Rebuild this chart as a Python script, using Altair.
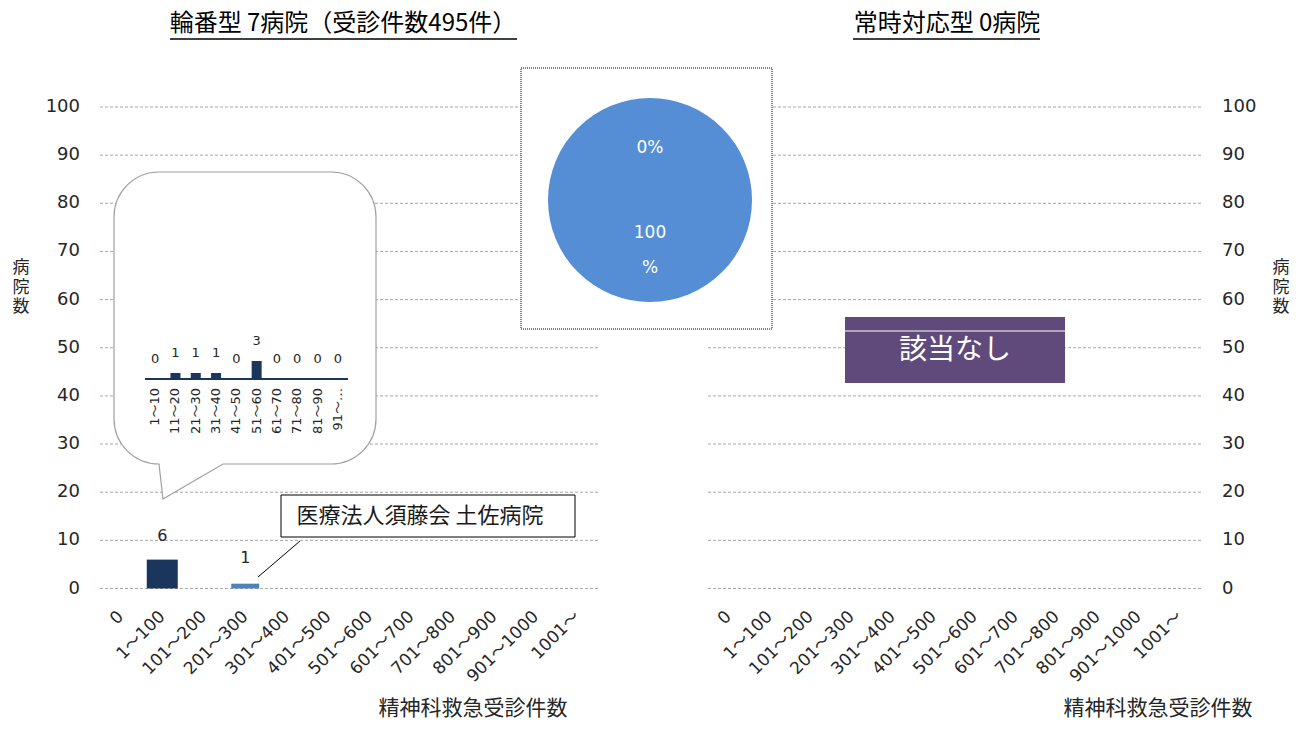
import altair as alt
import pandas as pd

# ---------------- data ----------------
categories = ["0", "1～100", "101～200", "201～300", "301～400", "401～500", "501～600",
              "601～700", "701～800", "801～900", "901～1000", "1001～"]
left_counts = [0, 6, 0, 0, 0, 0, 0, 0, 0, 0, 0, 0]
left_highlight = [0, 0, 0, 1, 0, 0, 0, 0, 0, 0, 0, 0]
y_ticks = [0, 10, 20, 30, 40, 50, 60, 70, 80, 90, 100]
mini_categories = ["1～10", "11～20", "21～30", "31～40", "41～50", "51～60",
                   "61～70", "71～80", "81～90", "91～…"]
mini_counts = [0, 1, 1, 1, 0, 3, 0, 0, 0, 0]
pie_shares = [0, 100]
pie_labels = ["0%", "100\n%"]
left_title = "輪番型 7病院（受診件数495件）"
right_title = "常時対応型 0病院"
x_title = "精神科救急受診件数"
y_title = "病\n院\n数"
callout_text = "医療法人須藤会 土佐病院"
none_text = "該当なし"

# ---------------- layout helpers ----------------
OFF = 8
def px(v):
    return v - OFF

NUM_FONT = "DejaVu Sans, Noto Sans CJK JP"
JP_FONT = "Noto Sans CJK JP"
LABEL_C = "#262626"
GRID_C = "#a6a6a6"
NAVY = "#1b365d"
LIGHT = "#4f81bd"
PIE_C = "#558ed5"
PURPLE = "#604a7b"

Y = alt.Scale(domain=[0, 100], range=[px(588.5), px(107)], nice=False, zero=True)
XL = alt.Scale(type="band", domain=categories, range=[px(100), px(598)], paddingInner=0, paddingOuter=0)
XR = alt.Scale(type="band", domain=categories, range=[px(708), px(1200)], paddingInner=0, paddingOuter=0)
XM = alt.Scale(type="band", domain=mini_categories, range=[px(145), px(348)], paddingInner=0, paddingOuter=0)
YM = alt.Scale(domain=[0, 3], range=[px(379), px(361)], nice=False, zero=True)

cat_df = pd.DataFrame({"cat": categories, "main": left_counts, "hl": left_highlight})
tick_df = pd.DataFrame({"v": y_ticks})
mini_df = pd.DataFrame({"cat": mini_categories, "v": mini_counts})
pie_df = pd.DataFrame({"share": pie_shares, "label": pie_labels, "ord": [0, 1]})
one = pd.DataFrame({"a": [0]})

layers = []

# gridlines
layers.append(alt.Chart(tick_df).mark_rule(color=GRID_C, strokeDash=[3, 2], strokeWidth=1).encode(
    y=alt.Y("v:Q", scale=Y, axis=None), x=alt.value(px(100)), x2=alt.value(px(600))))
layers.append(alt.Chart(tick_df).mark_rule(color=GRID_C, strokeDash=[3, 2], strokeWidth=1).encode(
    y=alt.Y("v:Q", scale=Y, axis=None), x=alt.value(px(708)), x2=alt.value(px(1202))))

# y tick labels
layers.append(alt.Chart(tick_df).mark_text(align="right", baseline="middle", font=NUM_FONT,
                                           fontSize=18, color=LABEL_C).encode(
    y=alt.Y("v:Q", scale=Y, axis=None), x=alt.value(px(80)), text=alt.Text("v:Q")))
layers.append(alt.Chart(tick_df).mark_text(align="left", baseline="middle", font=NUM_FONT,
                                           fontSize=18, color=LABEL_C).encode(
    y=alt.Y("v:Q", scale=Y, axis=None), x=alt.value(px(1222)), text=alt.Text("v:Q")))

# x category labels
for sc in (XL, XR):
    layers.append(alt.Chart(cat_df).mark_text(align="right", baseline="middle", angle=315,
                                              font=NUM_FONT, fontSize=17, color=LABEL_C).encode(
        x=alt.X("cat:N", scale=sc, axis=None, sort=categories), y=alt.value(px(614)), text="cat:N"))

# axis titles
for cx in (473, 1158):
    layers.append(alt.Chart(one).mark_text(font=JP_FONT, fontSize=21, color=LABEL_C, baseline="middle").encode(
        x=alt.value(px(cx)), y=alt.value(px(709)), text=alt.value(x_title)))
for cx in (21, 1281):
    layers.append(alt.Chart(one).mark_text(font=JP_FONT, fontSize=17, color=LABEL_C, lineBreak="\n",
                                           lineHeight=19.5, baseline="middle").encode(
        x=alt.value(px(cx)), y=alt.value(px(268)), text=alt.value(y_title)))

# titles with underline
layers.append(alt.Chart(one).mark_text(font=JP_FONT, fontSize=24, color="black", baseline="middle").encode(
    x=alt.value(px(343)), y=alt.value(px(24)), text=alt.value(left_title)))
layers.append(alt.Chart(one).mark_rule(color="black", strokeWidth=1.5).encode(
    x=alt.value(px(170)), x2=alt.value(px(517)), y=alt.value(px(39))))
layers.append(alt.Chart(one).mark_text(font=JP_FONT, fontSize=24, color="black", baseline="middle").encode(
    x=alt.value(px(947)), y=alt.value(px(24)), text=alt.value(right_title)))
layers.append(alt.Chart(one).mark_rule(color="black", strokeWidth=1.5).encode(
    x=alt.value(px(853)), x2=alt.value(px(1040)), y=alt.value(px(39))))

# speech bubble
bubble = ("M45,0 L217,0 A45,45 0 0 1 262,45 L262,247 A45,45 0 0 1 217,292 "
          "L109,292 L49,327 L45,292 A45,45 0 0 1 0,247 L0,45 A45,45 0 0 1 45,0 Z")
layers.append(alt.Chart(one).mark_point(shape=bubble, size=4, filled=True, fill="white",
                                        stroke="#a0a0a0", strokeWidth=1.2, opacity=1).encode(
    x=alt.value(px(114)), y=alt.value(px(172))))

# mini chart in bubble
layers.append(alt.Chart(mini_df).mark_bar(color=NAVY, width=10).encode(
    x=alt.X("cat:N", scale=XM, axis=None, sort=mini_categories),
    y=alt.Y("v:Q", scale=YM, axis=None)))
layers.append(alt.Chart(one).mark_rule(color=NAVY, strokeWidth=2).encode(
    x=alt.value(px(145)), x2=alt.value(px(348)), y=alt.value(px(379))))
layers.append(alt.Chart(mini_df).mark_text(font=NUM_FONT, fontSize=13, color=LABEL_C,
                                           baseline="middle", dy=-20).encode(
    x=alt.X("cat:N", scale=XM, axis=None, sort=mini_categories),
    y=alt.Y("v:Q", scale=YM, axis=None), text="v:Q"))
layers.append(alt.Chart(mini_df).mark_text(font=NUM_FONT, fontSize=13, color=LABEL_C,
                                           angle=270, align="right", baseline="middle").encode(
    x=alt.X("cat:N", scale=XM, axis=None, sort=mini_categories),
    y=alt.value(px(388)), text="cat:N"))

# main bars (left)
layers.append(alt.Chart(cat_df).transform_filter("datum.main > 0").mark_bar(color=NAVY, width=31).encode(
    x=alt.X("cat:N", scale=XL, axis=None, sort=categories), y=alt.Y("main:Q", scale=Y, axis=None)))
layers.append(alt.Chart(cat_df).transform_filter("datum.hl > 0").mark_bar(color=LIGHT, width=28).encode(
    x=alt.X("cat:N", scale=XL, axis=None, sort=categories), y=alt.Y("hl:Q", scale=Y, axis=None)))
layers.append(alt.Chart(cat_df).transform_filter("datum.main > 0").mark_text(
    font=NUM_FONT, fontSize=16, color=LABEL_C, baseline="middle", dy=-24).encode(
    x=alt.X("cat:N", scale=XL, axis=None, sort=categories), y=alt.Y("main:Q", scale=Y, axis=None),
    text="main:Q"))
layers.append(alt.Chart(cat_df).transform_filter("datum.hl > 0").mark_text(
    font=NUM_FONT, fontSize=16, color=LABEL_C, baseline="middle", dy=-26).encode(
    x=alt.X("cat:N", scale=XL, axis=None, sort=categories), y=alt.Y("hl:Q", scale=Y, axis=None),
    text="hl:Q"))

# callout
layers.append(alt.Chart(one).mark_rule(color="black", strokeWidth=1).encode(
    x=alt.value(px(300)), y=alt.value(px(541)), x2=alt.value(px(258)), y2=alt.value(px(577))))
layers.append(alt.Chart(one).mark_rect(fill="white", stroke="black", strokeWidth=1).encode(
    x=alt.value(px(281)), x2=alt.value(px(575)), y=alt.value(px(495)), y2=alt.value(px(537))))
layers.append(alt.Chart(one).mark_text(font=JP_FONT, fontSize=22, color="#1a1a1a", baseline="middle").encode(
    x=alt.value(px(420)), y=alt.value(px(516)), text=alt.value(callout_text)))

# pie box and pie
layers.append(alt.Chart(one).mark_rect(fill="white", stroke="black", strokeWidth=1, strokeDash=[1, 1]).encode(
    x=alt.value(px(521)), x2=alt.value(px(772)), y=alt.value(px(68)), y2=alt.value(px(329))))
layers.append(alt.Chart(pie_df).mark_arc(outerRadius=102, color=PIE_C).encode(
    theta=alt.Theta("share:Q", stack=True), order=alt.Order("ord:Q"),
    x=alt.value(px(650)), y=alt.value(px(200))))
for ordv, rad in ((0, 52), (1, 33)):
    layers.append(alt.Chart(pie_df).transform_stack(
        stack="share", groupby=[], as_=["s0", "s1"], sort=[alt.SortField("ord")]
    ).transform_calculate(mid="(datum.s0 + datum.s1) / 2").transform_filter(
        f"datum.ord == {ordv}").mark_text(
        font=NUM_FONT, fontSize=17, color="white", radius=rad,
        lineBreak="\n", lineHeight=35, baseline="middle").encode(
        theta=alt.Theta("mid:Q", scale=alt.Scale(domain=[0, 100])),
        x=alt.value(px(650)), y=alt.value(px(200)), text="label:N"))

# 該当なし box
layers.append(alt.Chart(one).mark_rect(fill=PURPLE).encode(
    x=alt.value(px(845)), x2=alt.value(px(1065)), y=alt.value(px(317)), y2=alt.value(px(383))))
layers.append(alt.Chart(one).mark_rule(color="white", strokeWidth=1).encode(
    x=alt.value(px(845)), x2=alt.value(px(1065)), y=alt.value(px(331))))
layers.append(alt.Chart(one).mark_text(font=JP_FONT, fontSize=28, color="white", baseline="middle").encode(
    x=alt.value(px(955)), y=alt.value(px(351)), text=alt.value(none_text)))

chart = alt.layer(*layers).resolve_scale(x="independent", y="independent", theta="independent").properties(
    width=1288, height=713, padding=0, autosize=alt.AutoSizeParams(type="none"),
    background="white").configure_view(stroke=None)

chart.save("out.html", embed_options={"renderer": "svg", "actions": False})
